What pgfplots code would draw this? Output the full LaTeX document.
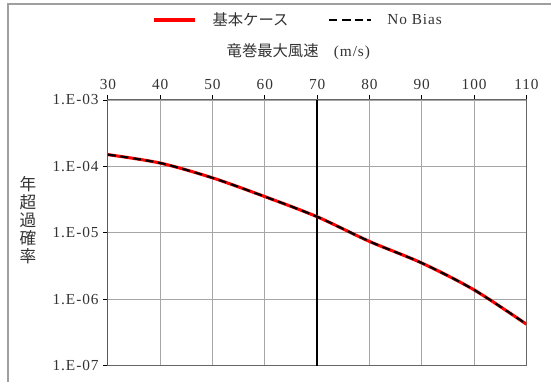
\documentclass[border=0pt]{standalone}
\usepackage{fontspec}
\setmainfont{Liberation Serif}[LetterSpace=6]
\newfontfamily\jp{Noto Sans CJK JP}
\usepackage{pgfplots}
\pgfplotsset{compat=1.18}
\newcommand{\lblfont}{\fontsize{11.5}{13}\selectfont}

\begin{document}
\begin{tikzpicture}
\begin{axis}[
    name=ax,
    at={(0,0)}, anchor=south west,
    scale only axis,
    width=314.25pt, height=199.5pt,
    ymode=log,
    xmin=30, xmax=110, ymin=1e-7, ymax=1e-3,
    xtick={30,40,...,110},
    xticklabel pos=top, xtick pos=top,
    ytick pos=left,
    ytick={1e-7,1e-6,1e-5,1e-4,1e-3},
    yticklabels={1.E-07,1.E-06,1.E-05,1.E-04,1.E-03},
    yminorticks=false,
    grid=major, grid style={gray!70, line width=0.6pt},
    axis line style={gray!80!black, line width=0.7pt},
    tick align=outside, tick style={black, line width=0.6pt},
    major tick length=3.5pt,
    ticklabel style={font=\lblfont, text=black!80},
    xticklabel style={yshift=1pt},
    /pgf/number format/assume math mode=true,
    legend columns=2,
    legend style={draw=none, at={(0.5,1)}, anchor=center, xshift=-14pt, yshift=60pt,
        font=\lblfont, text=black!80,
        /tikz/every odd column/.append style={column sep=10pt},
        /tikz/every even column/.append style={column sep=28pt}},
    legend image post style={xscale=1.8},
]
\draw[black, line width=1pt] (axis cs:70,1e-7) -- (axis cs:70,1e-3);
\draw[black, line width=0.8pt] (axis cs:30,1e-7) -- (axis cs:30,1e-3);
\addplot[red, line width=2.3pt, smooth] coordinates {
    (30,1.50e-4) (40,1.12e-4) (50,6.7e-5) (60,3.5e-5) (70,1.74e-5)
    (80,7.4e-6) (90,3.5e-6) (100,1.38e-6) (110,4.2e-7)
};
\addlegendentry{\jp 基本ケース}
\addplot[black, line width=1.6pt, dash pattern=on 6pt off 3.5pt, smooth] coordinates {
    (30,1.50e-4) (40,1.12e-4) (50,6.7e-5) (60,3.5e-5) (70,1.74e-5)
    (80,7.4e-6) (90,3.5e-6) (100,1.38e-6) (110,4.2e-7)
};
\addlegendentry{No Bias}
\end{axis}
% title and y label
\node[font=\lblfont, text=black!80] at (143pt,236pt) {{\jp 竜巻最大風速}\quad(m/s)};
\node[font=\fontsize{12.5}{13.5}\selectfont, text=black!80, align=center, inner sep=0pt] at (-60pt,109.5pt)
    {\jp 年\\\jp 超\\\jp 過\\\jp 確\\\jp 率};
% outer frame (top and left only)
\draw[gray!75, line width=0.9pt] (-75pt,-12pt) -- (-75pt,271.5pt) -- (333pt,271.5pt);
\useasboundingbox (-81pt,-12pt) rectangle (333pt,274.5pt);
\end{tikzpicture}
\end{document}
